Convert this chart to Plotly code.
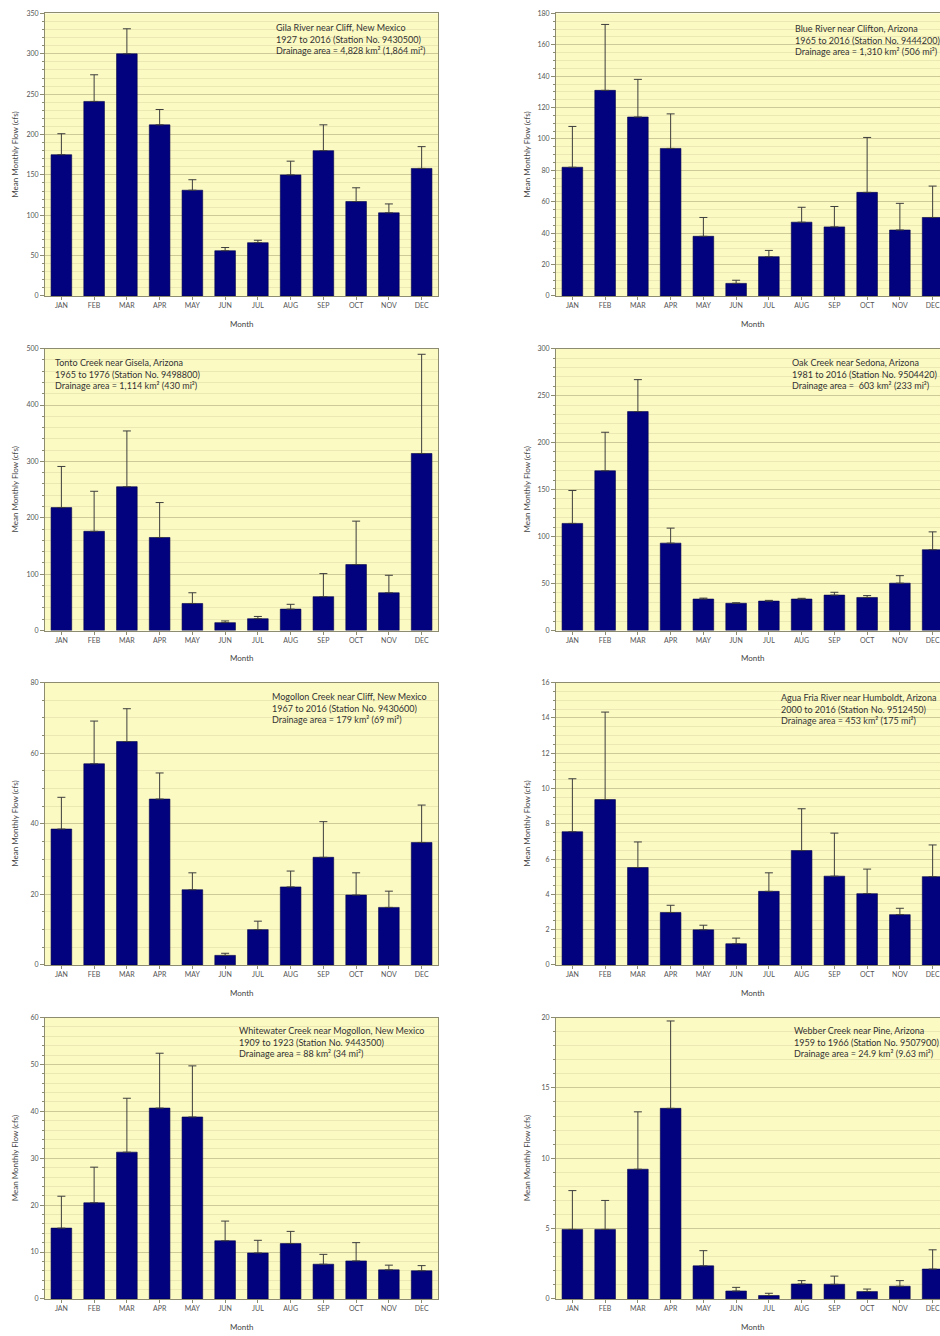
import plotly.graph_objects as go

# Month categories shared by every panel
MONTHS = ["JAN", "FEB", "MAR", "APR", "MAY", "JUN", "JUL", "AUG", "SEP", "OCT", "NOV", "DEC"]

# Mean monthly flow (cfs) and the upper error-bar length for each gauging station
gila_mean = [175, 241, 300, 212, 131, 56, 66, 150, 180, 117, 103, 158]
gila_err = [26, 33, 31, 19, 13, 4, 3, 17, 32, 17, 11, 27]

blue_mean = [82, 131, 114, 94, 38, 8, 25, 47, 44, 66, 42, 50]
blue_err = [26, 42, 24, 22, 12, 2, 4, 9.5, 13, 35, 17, 20]

tonto_mean = [218, 176, 255, 165, 48, 14, 21, 38, 60, 117, 67, 314]
tonto_err = [73, 71, 99, 62, 19, 3, 4, 8.5, 41, 77, 31, 176]

oak_mean = [114, 170, 233, 93, 33.5, 29, 31.3, 33.5, 37.7, 35.2, 50.4, 86]
oak_err = [35, 41, 34, 16, 1, 0.5, 0.8, 0.8, 3, 2, 8, 19]

mogollon_mean = [38.5, 57, 63.3, 47, 21.3, 2.7, 10, 22.1, 30.5, 19.8, 16.3, 34.7]
mogollon_err = [9, 12.1, 9.3, 7.4, 4.8, 0.6, 2.4, 4.5, 10.1, 6.3, 4.6, 10.6]

aguafria_mean = [7.55, 9.37, 5.52, 2.97, 1.99, 1.2, 4.17, 6.48, 5.03, 4.04, 2.85, 5.0]
aguafria_err = [3.0, 4.96, 1.45, 0.41, 0.26, 0.32, 1.05, 2.37, 2.44, 1.39, 0.36, 1.8]

whitewater_mean = [15.1, 20.5, 31.3, 40.7, 38.8, 12.4, 9.8, 11.8, 7.4, 8.1, 6.2, 6.0]
whitewater_err = [6.8, 7.6, 11.5, 11.7, 10.9, 4.2, 2.7, 2.6, 2.1, 3.9, 1.0, 1.1]

webber_mean = [4.94, 4.94, 9.22, 13.55, 2.35, 0.56, 0.24, 1.06, 1.04, 0.52, 0.9, 2.12]
webber_err = [2.76, 2.06, 4.08, 6.21, 1.08, 0.26, 0.16, 0.24, 0.58, 0.18, 0.4, 1.37]

# Station descriptions
gila_label = ["Gila River near Cliff, New Mexico",
              "1927 to 2016 (Station No. 9430500)",
              "Drainage area = 4,828 km² (1,864 mi²)"]
blue_label = ["Blue River near Clifton, Arizona",
              "1965 to 2016 (Station No. 9444200)",
              "Drainage area = 1,310 km² (506 mi²)"]
tonto_label = ["Tonto Creek near Gisela, Arizona",
               "1965 to 1976 (Station No. 9498800)",
               "Drainage area = 1,114 km² (430 mi²)"]
oak_label = ["Oak Creek near Sedona, Arizona",
             "1981 to 2016 (Station No. 9504420)",
             "Drainage area =  603 km² (233 mi²)"]
mogollon_label = ["Mogollon Creek near Cliff, New Mexico",
                  "1967 to 2016 (Station No. 9430600)",
                  "Drainage area = 179 km² (69 mi²)"]
aguafria_label = ["Agua Fria River near Humboldt, Arizona",
                  "2000 to 2016 (Station No. 9512450)",
                  "Drainage area = 453 km² (175 mi²)"]
whitewater_label = ["Whitewater Creek near Mogollon, New Mexico",
                    "1909 to 1923 (Station No. 9443500)",
                    "Drainage area = 88 km² (34 mi²)"]
webber_label = ["Webber Creek near Pine, Arizona",
                "1959 to 1966 (Station No. 9507900)",
                "Drainage area = 24.9 km² (9.63 mi²)"]

W, H = 940, 1336
FONT = "Lato, 'Open Sans', sans-serif"
BAR = "#02027e"
BG = "#fcfac3"
GRID = "#cdca98"
MINOR_GRID = "#ebe8b3"
AXIS = "#8e8c70"

# plot-area pixel boxes: (left, right, top, bottom)
COLS = {0: (45, 438), 1: (556, 940)}
ROWS = [(8.5, 292.7), (345.7, 629.3), (681.7, 965.7), (1018.7, 1301.7)]
CAT_W = (438 - 45) / 12.0

# (mean, err, label, ymax, dtick, minor dtick, row, col, label x px, label top px)
panels = [
    (gila_mean, gila_err, gila_label, 350, 50, 10, 0, 0, 274, 15),
    (blue_mean, blue_err, blue_label, 180, 20, 5, 0, 1, 793, 16),
    (tonto_mean, tonto_err, tonto_label, 500, 100, 20, 1, 0, 53, 352),
    (oak_mean, oak_err, oak_label, 300, 50, 10, 1, 1, 790, 352),
    (mogollon_mean, mogollon_err, mogollon_label, 80, 20, 5, 2, 0, 270, 688),
    (aguafria_mean, aguafria_err, aguafria_label, 16, 2, 0.5, 2, 1, 779, 689),
    (whitewater_mean, whitewater_err, whitewater_label, 60, 10, 2, 3, 0, 237, 1024),
    (webber_mean, webber_err, webber_label, 20, 5, 1, 3, 1, 792, 1024),
]


def px_x(v):
    return v / W


def px_y(v):
    return 1 - v / H


fig = go.Figure()
layout = {}
annotations = []

for i, (mean, err, label, ymax, dtick, mdtick, r, c, lx, ly) in enumerate(panels):
    n = "" if i == 0 else str(i + 1)
    xa, ya = "x" + n, "y" + n
    left, right = COLS[c]
    top, bottom = ROWS[r]

    fig.add_trace(go.Bar(
        x=MONTHS, y=mean, xaxis=xa, yaxis=ya,
        marker=dict(color=BAR, line=dict(color="#01014a", width=0.6)),
        error_y=dict(type="data", symmetric=False, array=err,
                     arrayminus=[0] * len(err), color="#3d3d3d",
                     thickness=1, width=4),
        showlegend=False, hoverinfo="x+y",
    ))

    x_end = -0.5 + (right - left) / CAT_W
    layout["xaxis" + n] = dict(
        domain=[px_x(left), px_x(right)], anchor=ya,
        type="category", range=[-0.5, x_end],
        showline=True, linecolor=AXIS, linewidth=1, mirror=True,
        ticks="outside", ticklen=3, tickcolor=AXIS,
        tickfont=dict(family=FONT, size=7, color="#555"),
        showgrid=False, zeroline=False, fixedrange=True,
    )
    layout["yaxis" + n] = dict(
        domain=[px_y(bottom), px_y(top)], anchor=xa,
        range=[0, ymax], dtick=dtick, tick0=0,
        showline=True, linecolor=AXIS, linewidth=1, mirror=(c == 0),
        ticks="outside", ticklen=4, tickcolor=AXIS,
        tickfont=dict(family=FONT, size=7, color="#555"),
        showgrid=True, gridcolor=GRID, gridwidth=1,
        minor=dict(dtick=mdtick, tick0=0, ticks="outside", ticklen=2,
                   tickcolor=AXIS, showgrid=True, gridcolor=MINOR_GRID),
        zeroline=False, fixedrange=True,
    )

    # station description block
    annotations.append(dict(
        xref="paper", yref="paper", x=px_x(lx), y=px_y(ly),
        xanchor="left", yanchor="top", align="left", showarrow=False,
        text="<br>".join(label),
        font=dict(family=FONT, size=9, color="#333"),
    ))
    # axis titles
    annotations.append(dict(
        xref="paper", yref="paper",
        x=px_x(left + (438 - 45) / 2), y=px_y(bottom + 28),
        xanchor="center", yanchor="middle", showarrow=False, text="Month",
        font=dict(family=FONT, size=8, color="#444"),
    ))
    annotations.append(dict(
        xref="paper", yref="paper",
        x=px_x(15 if c == 0 else 527), y=px_y((top + bottom) / 2),
        xanchor="center", yanchor="middle", showarrow=False, textangle=-90,
        text="Mean Monthly Flow (cfs)",
        font=dict(family=FONT, size=8, color="#444"),
    ))

fig.update_layout(
    width=W, height=H,
    margin=dict(l=0, r=0, t=0, b=0),
    paper_bgcolor="white", plot_bgcolor=BG,
    bargap=0.37,
    annotations=annotations,
    font=dict(family=FONT),
    **layout,
)

fig.write_html("out.html")
